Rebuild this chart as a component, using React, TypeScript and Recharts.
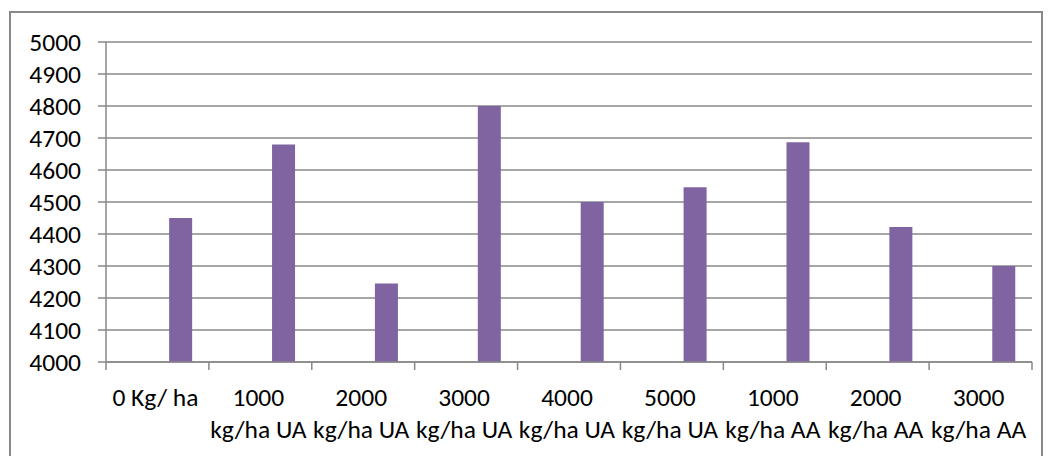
import React from "react";
import { Bar, BarChart, CartesianGrid, XAxis, YAxis } from "recharts";

const categories = [
  "0 Kg/ ha",
  "1000 kg/ha UA",
  "2000 kg/ha UA",
  "3000 kg/ha UA",
  "4000 kg/ha UA",
  "5000 kg/ha UA",
  "1000 kg/ha AA",
  "2000 kg/ha AA",
  "3000 kg/ha AA",
];

const tickLabelLines = [
  ["0 Kg/ ha"],
  ["1000", "kg/ha UA"],
  ["2000", "kg/ha UA"],
  ["3000", "kg/ha UA"],
  ["4000", "kg/ha UA"],
  ["5000", "kg/ha UA"],
  ["1000", "kg/ha AA"],
  ["2000", "kg/ha AA"],
  ["3000", "kg/ha AA"],
];

const values = [4450, 4680, 4245, 4800, 4500, 4546, 4687, 4422, 4300];

const yTicks = [4000, 4100, 4200, 4300, 4400, 4500, 4600, 4700, 4800, 4900, 5000];

const data = categories.map((name, i) => ({
  name,
  blankA: null,
  blankB: null,
  value: values[i],
}));

const W = 1049;
const H = 456;
const LEFT = 106;
const RIGHT = 17;
const GRAY = "#898989";
const FONT = "Carlito, Lato, sans-serif";
const FS = 25.5;
const band = (W - LEFT - RIGHT) / categories.length;

function CategoryTick(props: any) {
  const { x, y, index } = props;
  const lines = tickLabelLines[index] || [];
  return (
    <g>
      <line x1={x - band / 2} x2={x - band / 2} y1={y} y2={y + 8} stroke={GRAY} strokeWidth={1.5} />
      {index === categories.length - 1 && (
        <line x1={x + band / 2} x2={x + band / 2} y1={y} y2={y + 8} stroke={GRAY} strokeWidth={1.5} />
      )}
      <text textAnchor="middle" fill="#000" fontSize={FS} fontFamily={FONT}>
        {lines.map((l, i) => (
          <tspan key={i} x={x - 2} y={y + 44 + i * 32}>
            {l}
          </tspan>
        ))}
      </text>
    </g>
  );
}

export default function App() {
  return (
    <div style={{ position: "absolute", left: 0, top: 0, width: W, height: H, overflow: "hidden", background: "#fff" }}>
      <div
        style={{
          position: "absolute",
          left: 9,
          top: 11,
          width: 1030,
          height: 470,
          border: `2px solid ${GRAY}`,
        }}
      />
      <div style={{ position: "absolute", left: 0, top: 0 }}>
        <BarChart
          width={W}
          height={H}
          data={data}
          margin={{ top: 42, right: RIGHT, bottom: 0, left: 10 }}
          barCategoryGap="16.67%"
          barGap={0}
        >
          <CartesianGrid vertical={false} stroke={GRAY} strokeWidth={1.5} />
          <XAxis
            dataKey="name"
            height={94}
            axisLine={{ stroke: GRAY, strokeWidth: 1.5 }}
            tickLine={false}
            tickSize={0}
            tickMargin={0}
            interval={0}
            tick={<CategoryTick />}
          />
          <YAxis
            width={96}
            domain={[4000, 5000]}
            ticks={yTicks}
            interval={0}
            axisLine={{ stroke: GRAY, strokeWidth: 1.5 }}
            tickLine={{ stroke: GRAY, strokeWidth: 1.5 }}
            tickSize={8}
            tickMargin={17}
            tick={{ fill: "#000", fontSize: FS, fontFamily: FONT }}
          />
          <Bar dataKey="blankA" fill="#4F81BD" isAnimationActive={false} />
          <Bar dataKey="blankB" fill="#C0504D" isAnimationActive={false} />
          <Bar dataKey="value" fill="#8064A2" isAnimationActive={false} />
        </BarChart>
      </div>
    </div>
  );
}
